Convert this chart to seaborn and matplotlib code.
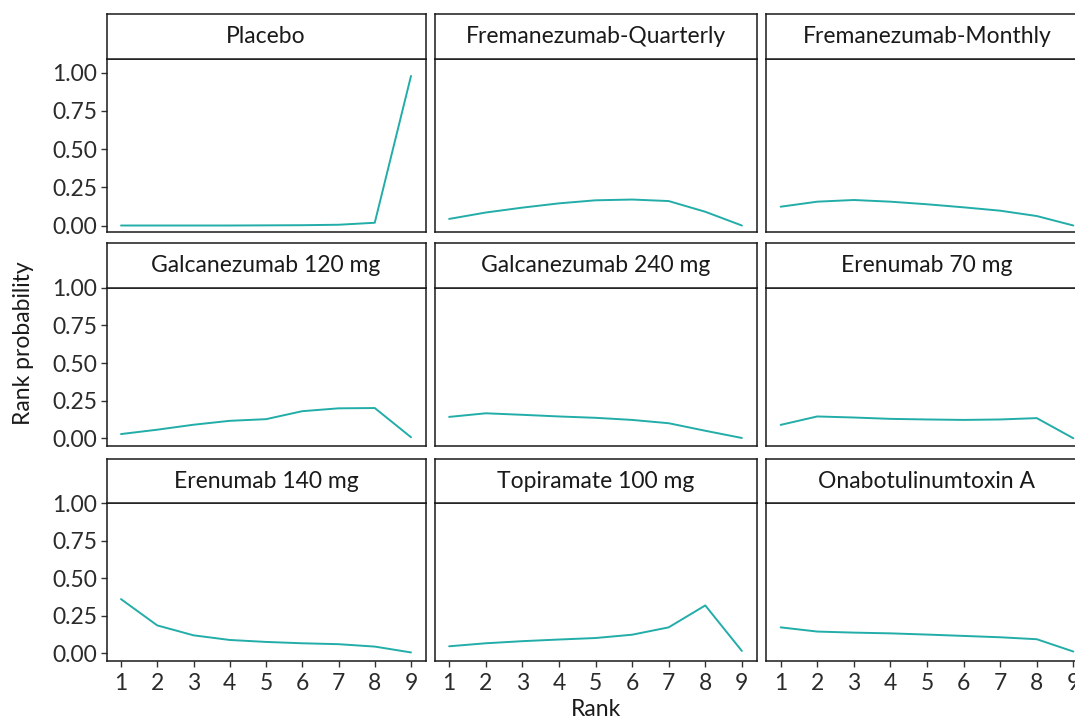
import matplotlib
matplotlib.use("Agg")
import matplotlib.pyplot as plt
import numpy as np
import pandas as pd
import seaborn as sns

# Rank probabilities for each treatment (ranks 1..9)
ranks = [1, 2, 3, 4, 5, 6, 7, 8, 9]
treatments = [
    "Placebo", "Fremanezumab-Quarterly", "Fremanezumab-Monthly",
    "Galcanezumab 120 mg", "Galcanezumab 240 mg", "Erenumab 70 mg",
    "Erenumab 140 mg", "Topiramate 100 mg", "Onabotulinumtoxin A",
]
placebo = [0.000, 0.000, 0.000, 0.000, 0.001, 0.002, 0.005, 0.018, 0.979]
fremanezumab_quarterly = [0.043, 0.085, 0.117, 0.145, 0.165, 0.170, 0.160, 0.090, 0.000]
fremanezumab_monthly = [0.123, 0.156, 0.167, 0.156, 0.139, 0.119, 0.097, 0.062, 0.000]
galcanezumab_120 = [0.028, 0.057, 0.090, 0.116, 0.127, 0.180, 0.199, 0.201, 0.007]
galcanezumab_240 = [0.142, 0.166, 0.156, 0.145, 0.136, 0.122, 0.100, 0.050, 0.002]
erenumab_70 = [0.089, 0.145, 0.138, 0.129, 0.125, 0.122, 0.125, 0.134, 0.000]
erenumab_140 = [0.362, 0.187, 0.121, 0.090, 0.077, 0.068, 0.062, 0.046, 0.007]
topiramate_100 = [0.048, 0.068, 0.082, 0.093, 0.103, 0.125, 0.174, 0.320, 0.017]
onabotulinumtoxin_a = [0.174, 0.146, 0.139, 0.134, 0.126, 0.117, 0.108, 0.095, 0.013]

series = [placebo, fremanezumab_quarterly, fremanezumab_monthly,
          galcanezumab_120, galcanezumab_240, erenumab_70,
          erenumab_140, topiramate_100, onabotulinumtoxin_a]

df = pd.DataFrame(
    [(t, r, p) for t, vals in zip(treatments, series) for r, p in zip(ranks, vals)],
    columns=["treatment", "rank", "prob"],
)

sns.set_theme(style="white")
plt.rcParams["font.family"] = ["Lato", "DejaVu Sans"]

W, H = 1075, 720
fig = plt.figure(figsize=(W / 100, H / 100), dpi=100)

ink = "#1a1a1a"
line_color = "#22ADA8"
fs = 16.5

# panel geometry in pixels: column (left, right); row (strip top, strip bottom, panel bottom, ylim)
cols = [(106.5, 425.5), (434.5, 756.5), (766.0, 1088.0)]
rows = [
    (13.7, 59.3, 232.0, (-0.0425, 1.088)),
    (242.7, 287.8, 445.8, (-0.05, 1.0)),
    (458.8, 503.3, 661.0, (-0.05, 1.0)),
]


def frac_rect(x0, x1, ytop, ybot):
    return [x0 / W, 1 - ybot / H, (x1 - x0) / W, (ybot - ytop) / H]


for i, name in enumerate(treatments):
    r, c = divmod(i, 3)
    x0, x1 = cols[c]
    s_top, s_bot, p_bot, ylim = rows[r]

    ax = fig.add_axes(frac_rect(x0, x1, s_bot, p_bot))
    sub = df[df["treatment"] == name]
    sns.lineplot(data=sub, x="rank", y="prob", ax=ax, color=line_color,
                 linewidth=1.4, legend=False)
    ax.set_xlim(0.6, 9.4)
    ax.set_ylim(*ylim)
    ax.set_xticks(ranks)
    ax.set_yticks([0, 0.25, 0.5, 0.75, 1.0])
    ax.set_yticklabels(["0.00", "0.25", "0.50", "0.75", "1.00"])
    ax.set_xlabel("")
    ax.set_ylabel("")
    for sp in ax.spines.values():
        sp.set_color(ink)
        sp.set_linewidth(1.1)
    ax.tick_params(axis="both", which="both", length=4.5, width=1.0, color="#333333",
                   labelsize=fs, labelcolor="#2b2b2b",
                   bottom=(r == 2), labelbottom=(r == 2),
                   left=(c == 0), labelleft=(c == 0))
    ax.tick_params(axis="y", pad=2.0)
    ax.tick_params(axis="x", pad=4.5)

    sax = fig.add_axes(frac_rect(x0, x1, s_top, s_bot))
    sax.set_xticks([])
    sax.set_yticks([])
    sax.set_facecolor("white")
    for sp in sax.spines.values():
        sp.set_color(ink)
        sp.set_linewidth(1.1)
    sax.text(0.5, 0.5, name, ha="center", va="center", fontsize=fs,
             color="#1a1a1a", transform=sax.transAxes)

fig.text(596 / W, 1 - 710 / H, "Rank", ha="center", va="center",
         fontsize=fs, color="#1a1a1a")
fig.text(24 / W, 1 - 343 / H, "Rank probability", ha="center", va="center",
         rotation=90, fontsize=fs, color="#1a1a1a")

fig.savefig("out.png", dpi=100, facecolor="white")
